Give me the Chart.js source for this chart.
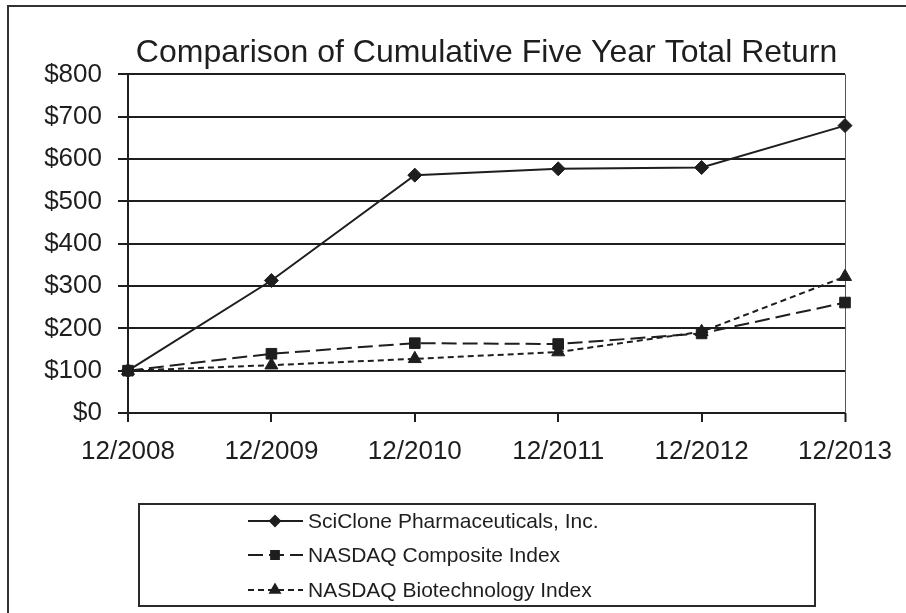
<!DOCTYPE html>
<html>
<head>
<meta charset="utf-8">
<style>
  html, body { margin: 0; padding: 0; background: #fff; }
  #wrap { width: 906px; height: 613px; }
</style>
<script src="https://cdn.jsdelivr.net/npm/chart.js@4/dist/chart.umd.min.js"></script>
</head>
<body>
<div id="wrap"><canvas id="returnChart" width="906" height="613"></canvas></div>
<script>
// values (index 12/2008 = $100)
var years = ['12/2008', '12/2009', '12/2010', '12/2011', '12/2012', '12/2013'];
var sciclone = [100, 313, 562, 577, 580, 679];
var nasdaqComposite = [100, 140, 165, 163, 188, 261];
var nasdaqBiotech = [100, 113, 128, 144, 192, 322];
var seriesNames = ['SciClone Pharmaceuticals, Inc.', 'NASDAQ Composite Index', 'NASDAQ Biotechnology Index'];

var FONT = '"Liberation Sans", Arial, sans-serif';
var INK = '#1e1e1e';

document.addEventListener('DOMContentLoaded', function () {
    var ctx = document.getElementById('returnChart').getContext('2d');

    // white page plus the left/top frame lines
    var framePlugin = {
        id: 'frame',
        beforeDraw: function (chart) {
            var c = chart.ctx;
            c.save();
            c.fillStyle = '#fff';
            c.fillRect(0, 0, chart.width, chart.height);
            c.strokeStyle = '#333';
            c.lineWidth = 2;
            c.beginPath();
            c.moveTo(8, chart.height);
            c.lineTo(8, 6);
            c.lineTo(chart.width, 6);
            c.stroke();
            c.restore();
        }
    };

    // boxed legend under the plot, line sample with marker
    var boxLegend = {
        id: 'boxLegend',
        afterDraw: function (chart) {
            var c = chart.ctx;
            c.save();
            c.strokeStyle = '#2a2a2a';
            c.lineWidth = 2;
            c.strokeRect(139, 504, 676, 102);
            var rows = [521, 555, 590];
            chart.data.datasets.forEach(function (ds, i) {
                var y = rows[i];
                c.strokeStyle = INK;
                c.lineWidth = 2;
                c.setLineDash(ds.borderDash || []);
                c.beginPath();
                c.moveTo(248, y);
                c.lineTo(303, y);
                c.stroke();
                c.setLineDash([]);
                c.fillStyle = INK;
                Chart.helpers.drawPoint(c, {
                    pointStyle: ds.pointStyle,
                    radius: ds.legendRadius,
                    rotation: 0,
                    borderWidth: 1
                }, 275, y);
                c.fillStyle = INK;
                c.font = '21px ' + FONT;
                c.textBaseline = 'middle';
                c.textAlign = 'left';
                c.fillText(ds.label, 308, y + 1);
            });
            c.restore();
        }
    };

    function lineSet(label, data, dash, style, radius, legendRadius) {
        return {
            label: label,
            data: data,
            borderColor: INK,
            backgroundColor: INK,
            borderWidth: 2,
            borderDash: dash,
            tension: 0,
            pointStyle: style,
            pointRadius: radius,
            pointHoverRadius: radius,
            pointBorderWidth: 1,
            pointBorderColor: INK,
            pointBackgroundColor: INK,
            legendRadius: legendRadius,
            clip: false
        };
    }

    var returnChart = new Chart(ctx, {
        type: 'line',
        data: {
            labels: years,
            datasets: [
                lineSet(seriesNames[0], sciclone, [], 'rectRot', 7, 5),
                lineSet(seriesNames[1], nasdaqComposite, [15, 6], 'rect', 7.5, 5.5),
                lineSet(seriesNames[2], nasdaqBiotech, [6, 4], 'triangle', 7.5, 5.5)
            ]
        },
        options: {
            responsive: false,
            animation: false,
            events: [],
            layout: { padding: { left: 0, right: 56, top: 0, bottom: 140 } },
            plugins: {
                legend: { display: false },
                tooltip: { enabled: false },
                title: {
                    display: true,
                    fullSize: false,
                    text: 'Comparison of Cumulative Five Year Total Return',
                    color: INK,
                    font: { family: FONT, size: 32, weight: 'normal' },
                    padding: { top: 34, bottom: 2 }
                }
            },
            scales: {
                x: {
                    offset: false,
                    afterFit: function (scale) { scale.height = 60; },
                    grid: {
                        drawOnChartArea: true,
                        tickLength: 9,
                        lineWidth: function (c) { return c.index === years.length - 1 ? 1 : 2; },
                        color: function (c) {
                            if (c.index === years.length - 1) return '#555';
                            return 'rgba(0,0,0,0)';
                        },
                        tickColor: INK,
                        tickWidth: 2
                    },
                    border: { display: false },
                    ticks: {
                        color: INK,
                        font: { family: FONT, size: 26 },
                        padding: 14,
                        maxRotation: 0,
                        autoSkip: false
                    }
                },
                y: {
                    min: 0,
                    max: 800,
                    afterFit: function (scale) { scale.width = 128; },
                    grid: {
                        color: INK,
                        lineWidth: 2,
                        tickLength: 10
                    },
                    border: { display: true, color: INK, width: 2 },
                    ticks: {
                        stepSize: 100,
                        color: INK,
                        padding: 16,
                        font: { family: FONT, size: 26 },
                        callback: function (v) { return '$' + v; }
                    }
                }
            }
        },
        plugins: [framePlugin, boxLegend]
    });
});
</script>
</body>
</html>
